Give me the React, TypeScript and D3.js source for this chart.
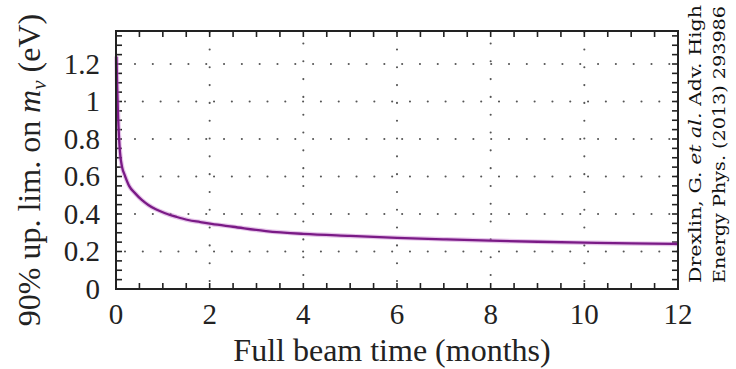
import React from "react";
import * as d3 from "d3";

// Beam time in months and the 90% upper limit on the neutrino mass in eV
const months = [0.01, 0.025, 0.04, 0.055, 0.085, 0.13, 0.19, 0.28, 0.41, 0.55, 0.69, 0.85, 1.05, 1.3, 1.54, 1.8, 2.04, 2.5, 3.2, 4, 5, 6, 7, 8, 9, 10, 11, 12];
const upperLimit = [1.24, 1.08, 0.95, 0.86, 0.73, 0.65, 0.605, 0.55, 0.51, 0.475, 0.448, 0.425, 0.404, 0.384, 0.368, 0.357, 0.347, 0.332, 0.309, 0.294, 0.283, 0.273, 0.265, 0.258, 0.252, 0.247, 0.243, 0.24];

const xTickLabels = ["0", "2", "4", "6", "8", "10", "12"];
const yTickLabels = ["0", "0.2", "0.4", "0.6", "0.8", "1", "1.2"];

const W = 736;
const H = 369;
const left = 116;
const right = 678;
const top = 31;
const bottom = 289;

const serif = "Liberation Serif, DejaVu Serif, serif";
const citeFont = "DejaVu Serif, Liberation Serif, serif";

export default function App() {
  const x = d3.scaleLinear().domain([0, 12]).range([left, right]);
  const y = d3.scaleLinear().domain([0, 1.376]).range([bottom, top]);

  const line = d3
    .line<number>()
    .x((_, i) => x(months[i]))
    .y((d) => y(d))
    .curve(d3.curveMonotoneX);
  const path = line(upperLimit) || "";

  const xMinor = d3.range(0, 12.001, 0.5);
  const yMinor = d3.range(0, 1.376, 0.05);
  const xGrid = [2, 4, 6, 8, 10];
  const yGrid = [0.2, 0.4, 0.6, 0.8, 1.0, 1.2];
  const tickLen = 6;

  return (
    <svg
      width={W}
      height={H}
      viewBox={`0 0 ${W} ${H}`}
      style={{ position: "absolute", left: 0, top: 0, background: "#fff" }}
    >
      {/* dotted grid */}
      <g stroke="#555" strokeWidth={2.1} strokeLinecap="round" strokeDasharray="0.01 17.8">
        {yGrid.map((v, i) => (
          <line
            key={`gy${v}`}
            x1={left}
            x2={right}
            y1={y(v)}
            y2={y(v)}
            strokeDashoffset={i % 2 === 0 ? -9 : -19}
          />
        ))}
        {xGrid.map((v, i) => (
          <line
            key={`gx${v}`}
            x1={x(v)}
            x2={x(v)}
            y1={bottom}
            y2={top}
            strokeDashoffset={i % 2 === 0 ? -8 : -14}
          />
        ))}
      </g>

      {/* minor/major ticks on all four sides */}
      <g stroke="#222" strokeWidth={1.6}>
        {xMinor.map((v) => (
          <g key={`tx${v}`}>
            <line x1={x(v)} x2={x(v)} y1={bottom} y2={bottom - tickLen} />
            <line x1={x(v)} x2={x(v)} y1={top} y2={top + tickLen} />
          </g>
        ))}
        {yMinor.map((v) => (
          <g key={`ty${v}`}>
            <line x1={left} x2={left + tickLen} y1={y(v)} y2={y(v)} />
            <line x1={right} x2={right - tickLen} y1={y(v)} y2={y(v)} />
          </g>
        ))}
      </g>

      {/* curve with soft halo */}
      <path d={path} fill="none" stroke="#c77fd0" strokeOpacity={0.45} strokeWidth={4.6} strokeLinejoin="round" />
      <path d={path} fill="none" stroke="#7a1a86" strokeWidth={2.3} strokeLinejoin="round" />

      {/* frame */}
      <rect x={left} y={top} width={right - left} height={bottom - top} fill="none" stroke="#222" strokeWidth={2} />

      {/* tick labels */}
      <g style={{ fontFamily: serif }} fontSize={29} fill="#222">
        {xTickLabels.map((t) => (
          <text key={`xl${t}`} x={x(+t)} y={324} textAnchor="middle">
            {t}
          </text>
        ))}
        {yTickLabels.map((t) => (
          <text key={`yl${t}`} x={100} y={y(+t)} dy="0.34em" textAnchor="end">
            {t}
          </text>
        ))}
      </g>

      {/* axis titles */}
      <text x={392} y={361} textAnchor="middle" style={{ fontFamily: serif }} fontSize={32} fill="#222">
        Full beam time (months)
      </text>
      <text
        transform={`translate(40, 170) rotate(-90)`}
        textAnchor="middle"
        style={{ fontFamily: serif }}
        fontSize={32}
        fill="#222"
      >
        90% up. lim. on <tspan fontStyle="italic">m</tspan>
        <tspan fontStyle="italic" fontSize={21} dy={6}>
          ν
        </tspan>
        <tspan dy={-6}> (eV)</tspan>
      </text>

      {/* citation */}
      <g style={{ fontFamily: citeFont }} fontSize={16} fill="#111">
        <text transform="translate(701, 283) rotate(-90)" textLength={278} lengthAdjust="spacingAndGlyphs">
          Drexlin, G. <tspan fontStyle="italic">et al.</tspan> Adv. High
        </text>
        <text transform="translate(725, 283) rotate(-90)" textLength={277} lengthAdjust="spacingAndGlyphs">
          Energy Phys. (2013) 293986
        </text>
      </g>
    </svg>
  );
}
